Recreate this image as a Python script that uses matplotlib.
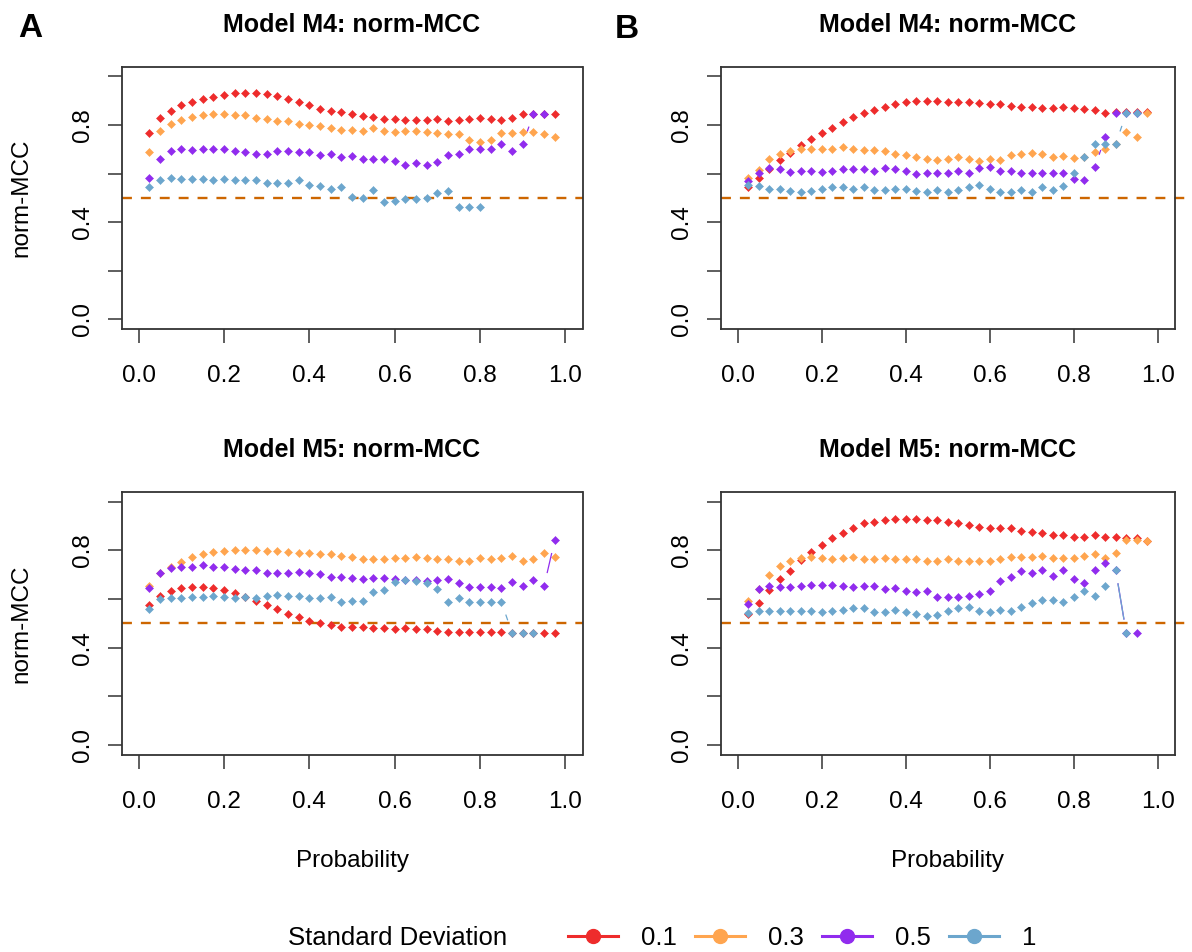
import numpy as np
import matplotlib
matplotlib.use("Agg")
import matplotlib.pyplot as plt
from matplotlib.lines import Line2D

plt.rcParams['font.family'] = ['Liberation Sans', 'DejaVu Sans']

nan = np.nan
prob = np.arange(1, 40) * 0.025
sd_labels = ['0.1', '0.3', '0.5', '1']
sd_colors = ['#EE2C2C', '#FFA54F', '#912CEE', '#6CA6CD']
x_ticks = [0.0, 0.2, 0.4, 0.6, 0.8, 1.0]
x_ticklabels = ['0.0', '0.2', '0.4', '0.6', '0.8', '1.0']
y_ticks = [0.0, 0.2, 0.4, 0.6, 0.8, 1.0]
y_ticklabels = ['0.0', '', '0.4', '', '0.8', '']
threshold = 0.5

# Panel A, Model M4
a_m4_sd01 = [0.765, 0.830, 0.859, 0.880, 0.894, 0.905, 0.916, 0.924, 0.930, 0.930,
             0.930, 0.927, 0.919, 0.905, 0.894, 0.880, 0.864, 0.859, 0.853, 0.843,
             0.837, 0.831, 0.826, 0.826, 0.820, 0.820, 0.820, 0.826, 0.815, 0.820,
             0.826, 0.830, 0.826, 0.820, 0.830, 0.845, 0.845, 0.845, 0.845]
a_m4_sd03 = [0.687, 0.776, 0.802, 0.820, 0.834, 0.841, 0.845, 0.845, 0.841, 0.841,
             0.830, 0.824, 0.815, 0.815, 0.805, 0.801, 0.795, 0.786, 0.780, 0.780,
             0.776, 0.786, 0.776, 0.771, 0.776, 0.776, 0.771, 0.765, 0.761, 0.761,
             0.736, 0.731, 0.736, 0.765, 0.765, 0.771, 0.771, 0.761, 0.750]
a_m4_sd05 = [0.583, 0.661, 0.691, 0.702, 0.697, 0.702, 0.702, 0.702, 0.691, 0.687,
             0.682, 0.682, 0.691, 0.691, 0.687, 0.687, 0.676, 0.682, 0.666, 0.672,
             0.661, 0.661, 0.661, 0.651, 0.636, 0.642, 0.636, 0.646, 0.676, 0.682,
             0.702, 0.702, 0.702, 0.721, 0.691, 0.721, 0.845, 0.845, nan]
a_m4_sd1 = [0.543, 0.573, 0.583, 0.577, 0.577, 0.577, 0.573, 0.577, 0.573, 0.573,
            0.573, 0.562, 0.562, 0.562, 0.573, 0.553, 0.547, 0.538, 0.543, 0.503,
            0.498, 0.533, 0.483, 0.488, 0.494, 0.494, 0.498, 0.518, 0.528, 0.463,
            0.463, 0.463, nan, nan, nan, nan, nan, nan, nan]

# Panel B, Model M4
b_m4_sd01 = [0.543, 0.583, 0.620, 0.656, 0.686, 0.716, 0.741, 0.765, 0.786, 0.811,
             0.834, 0.850, 0.860, 0.875, 0.885, 0.894, 0.898, 0.898, 0.898, 0.894,
             0.894, 0.894, 0.889, 0.885, 0.885, 0.879, 0.875, 0.875, 0.870, 0.870,
             0.875, 0.870, 0.864, 0.860, 0.850, 0.855, 0.855, 0.855, 0.855]
b_m4_sd03 = [0.583, 0.614, 0.658, 0.680, 0.692, 0.701, 0.701, 0.701, 0.701, 0.710,
             0.701, 0.695, 0.695, 0.691, 0.680, 0.676, 0.666, 0.661, 0.655, 0.661,
             0.666, 0.658, 0.650, 0.661, 0.655, 0.676, 0.682, 0.686, 0.680, 0.666,
             0.672, 0.662, 0.666, 0.690, 0.699, 0.720, 0.771, 0.750, 0.848]
b_m4_sd05 = [0.569, 0.603, 0.621, 0.617, 0.607, 0.612, 0.612, 0.607, 0.612, 0.617,
             0.617, 0.617, 0.612, 0.621, 0.617, 0.612, 0.597, 0.601, 0.601, 0.601,
             0.612, 0.601, 0.621, 0.625, 0.612, 0.612, 0.601, 0.601, 0.601, 0.601,
             0.601, 0.576, 0.573, 0.625, 0.749, 0.848, 0.848, 0.848, nan]
b_m4_sd1 = [0.551, 0.548, 0.537, 0.535, 0.528, 0.524, 0.528, 0.535, 0.543, 0.543,
            0.537, 0.543, 0.533, 0.533, 0.537, 0.537, 0.528, 0.524, 0.533, 0.524,
            0.533, 0.543, 0.553, 0.537, 0.524, 0.524, 0.533, 0.524, 0.543, 0.533,
            0.548, 0.601, 0.669, 0.721, 0.721, 0.721, 0.848, 0.848, nan]

# Panel A, Model M5
a_m5_sd01 = [0.575, 0.614, 0.634, 0.644, 0.648, 0.648, 0.644, 0.638, 0.623, 0.607,
             0.593, 0.574, 0.557, 0.538, 0.524, 0.509, 0.500, 0.493, 0.485, 0.485,
             0.485, 0.481, 0.481, 0.475, 0.481, 0.475, 0.475, 0.470, 0.465, 0.465,
             0.465, 0.465, 0.465, 0.465, 0.462, 0.462, 0.462, 0.460, 0.460]
a_m5_sd03 = [0.653, 0.705, 0.733, 0.754, 0.774, 0.785, 0.793, 0.799, 0.802, 0.802,
             0.802, 0.798, 0.798, 0.793, 0.788, 0.788, 0.784, 0.784, 0.777, 0.771,
             0.763, 0.763, 0.763, 0.767, 0.767, 0.771, 0.767, 0.763, 0.763, 0.758,
             0.758, 0.767, 0.763, 0.767, 0.777, 0.758, 0.763, 0.788, 0.771]
a_m5_sd05 = [0.644, 0.708, 0.728, 0.733, 0.733, 0.738, 0.733, 0.733, 0.722, 0.718,
             0.718, 0.708, 0.708, 0.708, 0.712, 0.708, 0.703, 0.692, 0.692, 0.688,
             0.684, 0.688, 0.688, 0.684, 0.678, 0.678, 0.673, 0.678, 0.684, 0.664,
             0.648, 0.648, 0.648, 0.644, 0.669, 0.653, 0.678, 0.653, 0.843]
a_m5_sd1 = [0.560, 0.599, 0.603, 0.603, 0.608, 0.608, 0.614, 0.608, 0.603, 0.608,
            0.603, 0.614, 0.618, 0.614, 0.614, 0.603, 0.603, 0.608, 0.588, 0.593,
            0.593, 0.629, 0.637, 0.669, 0.678, 0.673, 0.664, 0.643, 0.588, 0.603,
            0.588, 0.588, 0.588, 0.588, 0.460, 0.460, 0.460, nan, nan]

# Panel B, Model M5
b_m5_sd01 = [0.538, 0.585, 0.637, 0.684, 0.717, 0.760, 0.793, 0.822, 0.850, 0.870,
             0.891, 0.911, 0.917, 0.925, 0.931, 0.931, 0.931, 0.925, 0.925, 0.917,
             0.911, 0.906, 0.896, 0.891, 0.891, 0.891, 0.881, 0.876, 0.870, 0.865,
             0.862, 0.856, 0.856, 0.862, 0.856, 0.856, 0.852, 0.852, 0.840]
b_m5_sd03 = [0.590, 0.642, 0.699, 0.737, 0.758, 0.767, 0.771, 0.767, 0.763, 0.767,
             0.771, 0.763, 0.763, 0.767, 0.763, 0.763, 0.763, 0.758, 0.758, 0.763,
             0.758, 0.758, 0.758, 0.758, 0.763, 0.771, 0.771, 0.771, 0.777, 0.767,
             0.767, 0.767, 0.777, 0.784, 0.767, 0.788, 0.843, 0.843, 0.840]
b_m5_sd05 = [0.579, 0.640, 0.653, 0.648, 0.648, 0.653, 0.658, 0.658, 0.658, 0.653,
             0.648, 0.653, 0.653, 0.640, 0.644, 0.634, 0.629, 0.634, 0.610, 0.610,
             0.610, 0.614, 0.619, 0.634, 0.674, 0.689, 0.714, 0.708, 0.719, 0.695,
             0.719, 0.684, 0.664, 0.719, 0.747, 0.719, 0.461, 0.461, nan]
b_m5_sd1 = [0.544, 0.551, 0.551, 0.551, 0.551, 0.551, 0.551, 0.545, 0.551, 0.556,
            0.562, 0.562, 0.545, 0.545, 0.556, 0.545, 0.540, 0.530, 0.535, 0.551,
            0.562, 0.566, 0.551, 0.545, 0.556, 0.551, 0.566, 0.585, 0.596, 0.596,
            0.589, 0.610, 0.634, 0.612, 0.653, 0.719, 0.461, nan, nan]

panels = [
    dict(title='Model M4: norm-MCC', series=[a_m4_sd01, a_m4_sd03, a_m4_sd05, a_m4_sd1],
         rect=(121.6, 66.6, 582.5, 329.0), ylabel=True, xlabel=False, extend=False),
    dict(title='Model M4: norm-MCC', series=[b_m4_sd01, b_m4_sd03, b_m4_sd05, b_m4_sd1],
         rect=(720.9, 66.6, 1174.5, 329.0), ylabel=False, xlabel=False, extend=True),
    dict(title='Model M5: norm-MCC', series=[a_m5_sd01, a_m5_sd03, a_m5_sd05, a_m5_sd1],
         rect=(121.6, 492.1, 582.5, 754.5), ylabel=True, xlabel=True, extend=False),
    dict(title='Model M5: norm-MCC', series=[b_m5_sd01, b_m5_sd03, b_m5_sd05, b_m5_sd1],
         rect=(720.9, 492.1, 1174.5, 754.5), ylabel=False, xlabel=True, extend=True),
]

W, H = 1192, 952
fig = plt.figure(figsize=(W / 100, H / 100), dpi=100)
FS = 17.5
GAP_PX = 14.0
axis_col = '#333333'


def b_type_segments(ax, x, y, gap):
    pts = ax.transData.transform(np.column_stack([x, y]))
    inv = ax.transData.inverted()
    xs, ys = [], []
    for i in range(len(x) - 1):
        if np.isnan(y[i]) or np.isnan(y[i + 1]):
            continue
        p, q = pts[i], pts[i + 1]
        d = np.hypot(*(q - p))
        if d <= 2 * gap:
            continue
        u = (q - p) / d
        da, db = inv.transform(np.array([p + u * gap, q - u * gap]))
        xs += [da[0], db[0], np.nan]
        ys += [da[1], db[1], np.nan]
    return xs, ys


for pnl in panels:
    l, t, r, b = pnl['rect']
    ax = fig.add_axes([l / W, 1 - b / H, (r - l) / W, (b - t) / H])
    ax.set_xlim(-0.04, 1.04)
    ax.set_ylim(-0.04, 1.04)
    for sp in ax.spines.values():
        sp.set_color(axis_col)
        sp.set_linewidth(1.3)
    ax.set_xticks(x_ticks)
    ax.set_xticklabels(x_ticklabels)
    ax.set_yticks(y_ticks)
    ax.set_yticklabels(y_ticklabels, rotation=90, va='center')
    ax.tick_params(axis='both', direction='out', length=10, width=1.1,
                   color=axis_col, labelsize=FS, labelcolor='black')
    ax.tick_params(axis='x', pad=16)
    ax.tick_params(axis='y', pad=10)
    ax.set_title(pnl['title'], fontsize=18, fontweight='bold', pad=25)

    if pnl['extend']:
        ax.axhline(threshold, xmin=0, xmax=1.04, color='#CD6600', lw=1.7,
                   linestyle=(0, (4.2, 3.8)), clip_on=False, zorder=1)
    else:
        ax.axhline(threshold, color='#CD6600', lw=1.7,
                   linestyle=(0, (4.2, 3.8)), zorder=1)

    for i, (vals, col) in enumerate(zip(pnl['series'], sd_colors)):
        y = np.array(vals, dtype=float)
        sx, sy = b_type_segments(ax, prob, y, GAP_PX)
        if sx:
            ax.plot(sx, sy, color=col, lw=0.9, zorder=2 + i, clip_on=False)
        ax.plot(prob, y, linestyle='none', marker='D', ms=4.1, mew=0.4,
                mfc=col, mec=col, zorder=2 + i, clip_on=False)

    if pnl['ylabel']:
        ax.set_ylabel('norm-MCC', fontsize=FS, va='center')
        ax.yaxis.set_label_coords((21 - l) / (r - l), 0.5)
    if pnl['xlabel']:
        ax.set_xlabel('Probability', fontsize=FS, va='center')
        ax.xaxis.set_label_coords(0.5, (b - 861) / (b - t))

fig.text(30.5 / W, 1 - 28.5 / H, 'A', fontsize=24, fontweight='bold',
         ha='center', va='center')
fig.text(627 / W, 1 - 29.5 / H, 'B', fontsize=24, fontweight='bold',
         ha='center', va='center')

# Legend
fig.text(288 / W, 1 - 938 / H, 'Standard Deviation', fontsize=18.5,
         ha='left', va='center')
handles = [Line2D([0], [0], color=c, lw=2.2, marker='o', ms=10) for c in sd_colors]
fig.legend(handles, sd_labels, loc='center left', bbox_to_anchor=(568 / W, 1 - 938 / H),
           ncol=4, frameon=False, fontsize=18.5, handlelength=1.95,
           handletextpad=0.9, columnspacing=0.7, borderpad=0, borderaxespad=0,
           numpoints=1)

fig.savefig('out.png', dpi=100)
